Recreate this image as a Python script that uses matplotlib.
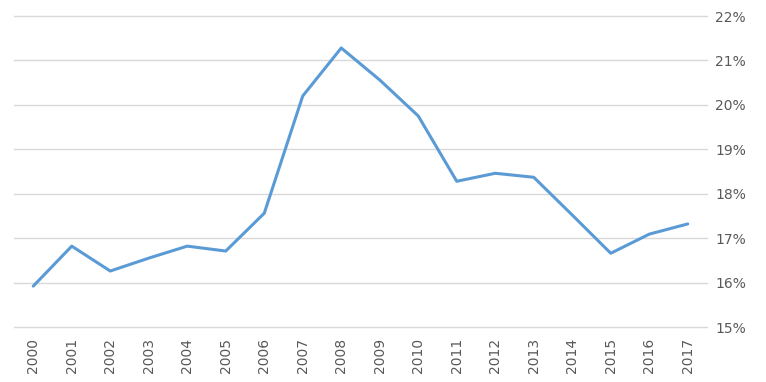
import matplotlib
import matplotlib.pyplot as plt
from matplotlib.ticker import FuncFormatter

years = [str(y) for y in range(2000, 2018)]
values = [15.92, 16.82, 16.26, 16.55, 16.82, 16.71, 17.56, 20.20, 21.28,
          20.56, 19.75, 18.28, 18.46, 18.37, 17.52, 16.66, 17.09, 17.32]

fig = plt.figure(figsize=(7.66, 3.82), dpi=100)
ax = fig.add_axes([14 / 766, 1 - 327 / 382, (707 - 14) / 766, (327 - 16) / 382])

ax.plot(range(len(years)), values, color="#5B9BD5", linewidth=2.2,
        solid_joinstyle="round", solid_capstyle="round")

ax.set_xlim(-0.5, len(years) - 0.5)
ax.set_ylim(15, 22)
ax.set_yticks(range(15, 23))
ax.yaxis.set_major_formatter(FuncFormatter(lambda v, p: f"{v:.0f}%"))
ax.yaxis.tick_right()
ax.set_xticks(range(len(years)))
ax.set_xticklabels(years, rotation=90)

ax.grid(axis="y", color="#D9D9D9", linewidth=1)
for gl in ax.get_ygridlines():
    gl.set_clip_on(False)
ax.set_axisbelow(True)
for s in ax.spines.values():
    s.set_visible(False)
ax.tick_params(axis="both", length=0, labelsize=10, labelcolor="#595959")
ax.tick_params(axis="y", pad=6)
ax.tick_params(axis="x", pad=8)

fig.savefig("out.png", dpi=100)
